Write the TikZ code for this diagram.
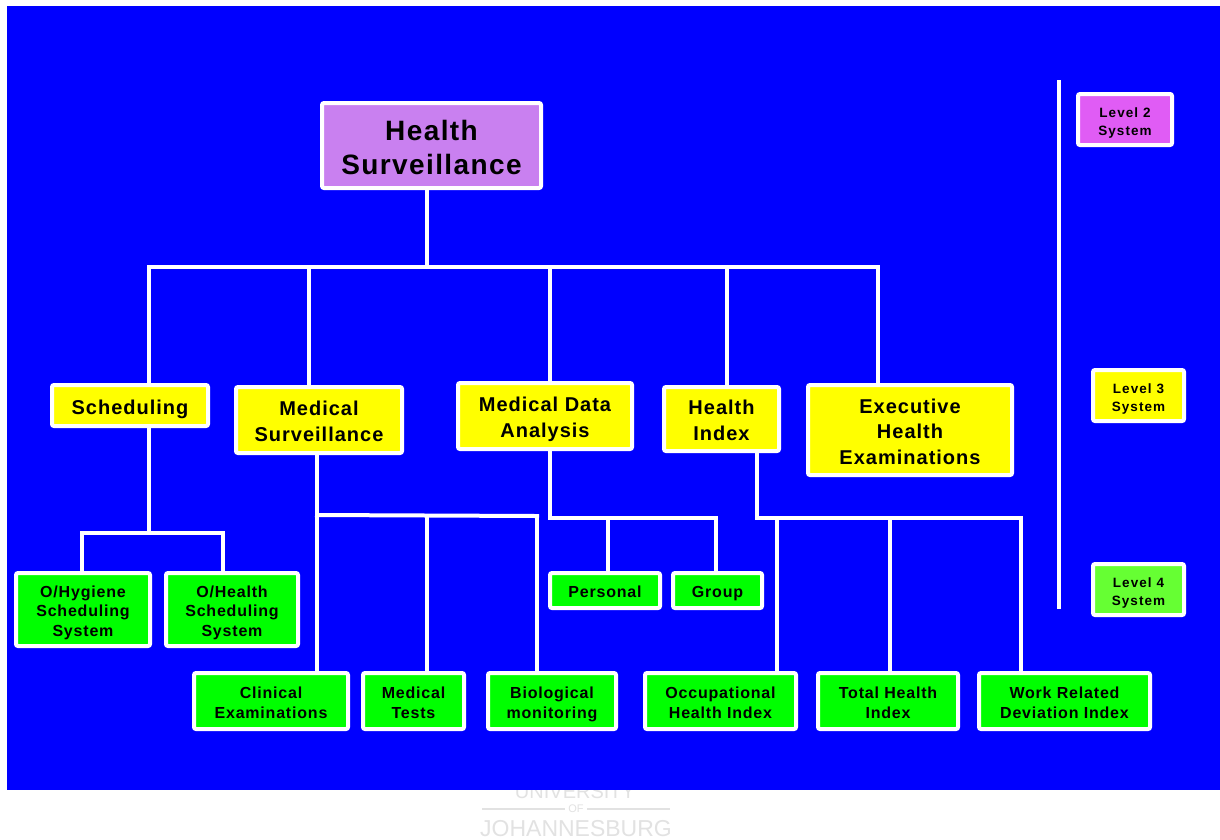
\documentclass[tikz,border=0pt]{standalone}
\usepackage{fontspec}
\setmainfont{Liberation Sans}
\newfontfamily\lblfont[LetterSpace=5]{Liberation Sans}
\newfontfamily\legfont[LetterSpace=8]{Liberation Sans}
\definecolor{bgblue}{HTML}{0000FF}
\definecolor{topfill}{HTML}{C980F0}
\definecolor{midfill}{HTML}{FFFF00}
\definecolor{lowfill}{HTML}{00FF00}
\definecolor{legtwo}{HTML}{E05CF5}
\definecolor{legfour}{HTML}{66FF33}
\definecolor{wmgray}{HTML}{E2E2E2}
% centred lines of box text, set a little below the strut centre
\newcommand\ml[2][3.5pt]{\raisebox{-#1}[\height][\depth]{\begin{tabular}{@{}c@{}}#2\end{tabular}}}
\tikzset{
  box/.style={draw=white, line width=4pt, rounded corners=2pt,
    inner sep=0pt, text=black},
  topbox/.style={box, fill=topfill, font=\lblfont\bfseries\fontsize{28}{34}\selectfont},
  midbox/.style={box, fill=midfill, font=\lblfont\bfseries\fontsize{20}{25.5}\selectfont},
  lowbox/.style={box, fill=lowfill, font=\lblfont\bfseries\fontsize{16}{19.5}\selectfont},
  legbox/.style={box, font=\legfont\bfseries\fontsize{13.5}{18.3}\selectfont},
  conn/.style={draw=white, line width=4pt, line cap=rect},
  sz/.style 2 args={minimum width=#1pt-4pt, minimum height=#2pt-4pt},
}
\begin{document}
\begin{tikzpicture}[x=1pt, y=-1pt]
\useasboundingbox[fill=white] (0,0) rectangle (1220,839);

% university watermark, partly covered by the panel
\node[text=wmgray, font=\fontsize{20}{20}\selectfont, anchor=base] (wm1) at (575,798) {UNIVERSITY};
\node[text=wmgray, font=\fontsize{11}{11}\selectfont] (wm2) at (576,809) {OF};
\draw[wmgray, line width=1.2pt] (482,809) -- (wm2.west);
\draw[wmgray, line width=1.2pt] (wm2.east) -- (670,809);
\node[text=wmgray, font=\fontsize{23}{23}\selectfont, anchor=base] (wm3) at (576,836) {JOHANNESBURG};

% blue panel
\fill[bgblue] (7,6) rectangle (1220,790);

% level 2
\node[topbox, sz={223}{89}] (hs) at (431.5,145.5) {\ml[5.5pt]{Health\\Surveillance}};

% level 3
\node[midbox, sz={160}{45}] (sched) at (130,405.5) {\ml{Scheduling}};
\node[midbox, sz={170}{70}] (msurv) at (319,420) {\ml{Medical\\Surveillance}};
\node[midbox, sz={178}{70}] (mda) at (545,416) {\ml{Medical Data\\Analysis}};
\node[midbox, sz={119}{68}] (hidx) at (721.5,419) {\ml{Health\\Index}};
\node[midbox, sz={208}{94}] (exec) at (910,430) {\ml{Executive\\Health\\Examinations}};

% level 4
\node[lowbox, sz={138}{77}] (ohyg) at (83,609.5) {\ml{O/Hygiene\\Scheduling\\System}};
\node[lowbox, sz={136}{77}] (ohlth) at (232,609.5) {\ml{O/Health\\Scheduling\\System}};
\node[lowbox, sz={158}{60}] (clin) at (271,701) {\ml{Clinical\\Examinations}};
\node[lowbox, sz={105}{60}] (mtest) at (413.5,701) {\ml{Medical\\Tests}};
\node[lowbox, sz={132}{60}] (bio) at (552,701) {\ml{Biological\\monitoring}};
\node[lowbox, sz={114}{39}] (pers) at (605,590.5) {\ml{Personal}};
\node[lowbox, sz={93}{39}] (grp) at (717.5,590.5) {\ml{Group}};
\node[lowbox, sz={155}{60}] (occ) at (720.5,701) {\ml{Occupational\\Health Index}};
\node[lowbox, sz={144}{60}] (tot) at (888,701) {\ml{Total Health\\Index}};
\node[lowbox, sz={175}{60}] (work) at (1064.5,701) {\ml{Work Related\\Deviation Index}};

% legend
\coordinate (lgtop) at (1059,80);
\coordinate (lgbot) at (1059,609);
\draw[conn, line cap=butt] (lgtop) -- (lgbot);
\node[legbox, fill=legtwo, sz={98}{55}] (lv2) at (1125,119.5) {\ml{Level 2\\System}};
\node[legbox, fill=midfill, sz={95}{55}] (lv3) at (1138.5,395.5) {\ml{Level 3\\System}};
\node[legbox, fill=legfour, sz={95}{55}] (lv4) at (1138.5,589.5) {\ml{Level 4\\System}};

% top tree
\coordinate (t0) at (427,267);
\coordinate (tS) at (149,267);
\coordinate (tM) at (309,267);
\coordinate (tD) at (550,267);
\coordinate (tH) at (727,267);
\coordinate (tE) at (878,267);
\draw[conn, line cap=butt] (hs.south -| t0) -- (t0);
\draw[conn] (tS) -- (tE);
\foreach \tap/\dst in {tS/sched, tM/msurv, tD/mda, tH/hidx, tE/exec}
  \draw[conn, line cap=butt] (\tap) -- (\tap |- \dst.north);

% scheduling subtree
\coordinate (s0) at (149,533);
\coordinate (s1) at (82,533);
\coordinate (s2) at (223,533);
\draw[conn, line cap=butt] (s0 |- sched.south) -- (s0);
\draw[conn] (s1) -- (s2);
\draw[conn, line cap=butt] (s1) -- (s1 |- ohyg.north);
\draw[conn, line cap=butt] (s2) -- (s2 |- ohlth.north);

% medical surveillance subtree
\coordinate (m1) at (317,515);
\coordinate (m2) at (427,515);
\coordinate (m3) at (537,516);
\draw[conn, line cap=butt] (m1 |- msurv.south) -- (m1);
\draw[conn] (m1) -- (m3);
\draw[conn, line cap=butt] (m1) -- (m1 |- clin.north);
\draw[conn, line cap=butt] (m2) -- (m2 |- mtest.north);
\draw[conn, line cap=butt] (m3) -- (m3 |- bio.north);

% data analysis subtree
\coordinate (d0) at (550,518);
\coordinate (d1) at (608,518);
\coordinate (d2) at (716,518);
\draw[conn, line cap=butt] (d0 |- mda.south) -- (d0);
\draw[conn] (d0) -- (d2);
\draw[conn, line cap=butt] (d1) -- (d1 |- pers.north);
\draw[conn, line cap=butt] (d2) -- (d2 |- grp.north);

% health index subtree
\coordinate (h0) at (757,518);
\coordinate (h1) at (777,518);
\coordinate (h2) at (890,518);
\coordinate (h3) at (1021,518);
\draw[conn, line cap=butt] (h0 |- hidx.south) -- (h0);
\draw[conn] (h0) -- (h3);
\draw[conn, line cap=butt] (h1) -- (h1 |- occ.north);
\draw[conn, line cap=butt] (h2) -- (h2 |- tot.north);
\draw[conn, line cap=butt] (h3) -- (h3 |- work.north);
\end{tikzpicture}
\end{document}
